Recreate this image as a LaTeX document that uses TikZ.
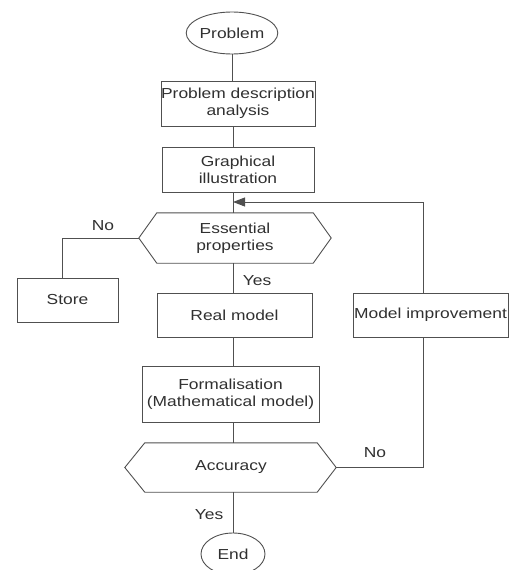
\documentclass[tikz,border=0pt]{standalone}
\usepackage{fontspec}
\setmainfont{Liberation Sans}[FakeStretch=1.2]
\usetikzlibrary{arrows.meta,shapes.geometric}
\definecolor{ln}{HTML}{505050}
\definecolor{tx}{HTML}{303030}
\begin{document}
\begin{tikzpicture}[x=1pt,y=-1pt,
  base/.style={text=tx,font=\fontsize{14.5}{17}\selectfont,align=center,inner sep=0pt},
  box/.style={base,draw=ln,line width=0.9pt,rectangle},
  oval/.style={base,draw=ln,line width=0.9pt,ellipse},
  hexcore/.style={base,rectangle},
  lbl/.style={base},
  conn/.style={draw=ln,line width=0.9pt}]
\clip (0,0) rectangle (512,570);
% nodes
\node[oval,minimum width=83,minimum height=42] (prob) at (232,33) {Problem};
\node[box,minimum width=154,minimum height=45] (pda) at (238,103.5) {Problem description\\analysis};
\node[box,minimum width=152,minimum height=45] (gi) at (238,169.5) {Graphical\\illustration};
\node[hexcore,minimum width=156,minimum height=50] (ep) at (235,238) {Essential\\properties};
\node[box,minimum width=101,minimum height=44] (store) at (67.5,300) {Store};
\node[box,minimum width=155,minimum height=44] (rm) at (234.5,315) {Real model};
\node[box,minimum width=155,minimum height=44] (mi) at (430.5,315) {Model improvement};
\node[box,minimum width=177,minimum height=56] (form) at (230.5,394) {Formalisation\\(Mathematical model)};
\node[hexcore,minimum width=172,minimum height=49] (acc) at (231,467.5) {Accuracy};
\node[oval,minimum width=64,minimum height=42] (end) at (233,554) {End};
% hexagon outlines
\draw[conn] (ep.north west) -- (ep.north east) -- ([xshift=18pt]ep.east) -- (ep.south east) -- (ep.south west) -- ([xshift=-18pt]ep.west) -- cycle;
\draw[conn] (acc.north west) -- (acc.north east) -- ([xshift=19pt]acc.east) -- (acc.south east) -- (acc.south west) -- ([xshift=-20pt]acc.west) -- cycle;
% coordinates
\coordinate (j) at (233,202);
\coordinate (fb) at (423,202);
% connectors
\draw[conn] (prob.south) -- (prob.south |- pda.north);
\draw[conn] (pda.south -| j) -- (gi.north -| j);
\draw[conn] (gi.south -| j) -- (ep.north -| j);
\draw[conn] (ep.south -| j) -- (rm.north -| j);
\draw[conn] (rm.south -| j) -- (form.north -| j);
\draw[conn] (form.south -| j) -- (acc.north -| j);
\draw[conn] (acc.south -| j) -- (end.north -| j);
\draw[conn] ([xshift=-18pt]ep.west) -| ([xshift=-5pt]store.north);
\draw[conn] ([xshift=19pt]acc.east) -| (mi.south -| fb);
\draw[conn,-{Triangle[length=12pt,width=9pt]}] (mi.north -| fb) -- (fb) -- (j);
% labels
\node[lbl] (no1) at (103,226) {No};
\node[lbl] (yes1) at (257,281) {Yes};
\node[lbl] (no2) at (375,453) {No};
\node[lbl] (yes2) at (209,515) {Yes};
\end{tikzpicture}
\end{document}
